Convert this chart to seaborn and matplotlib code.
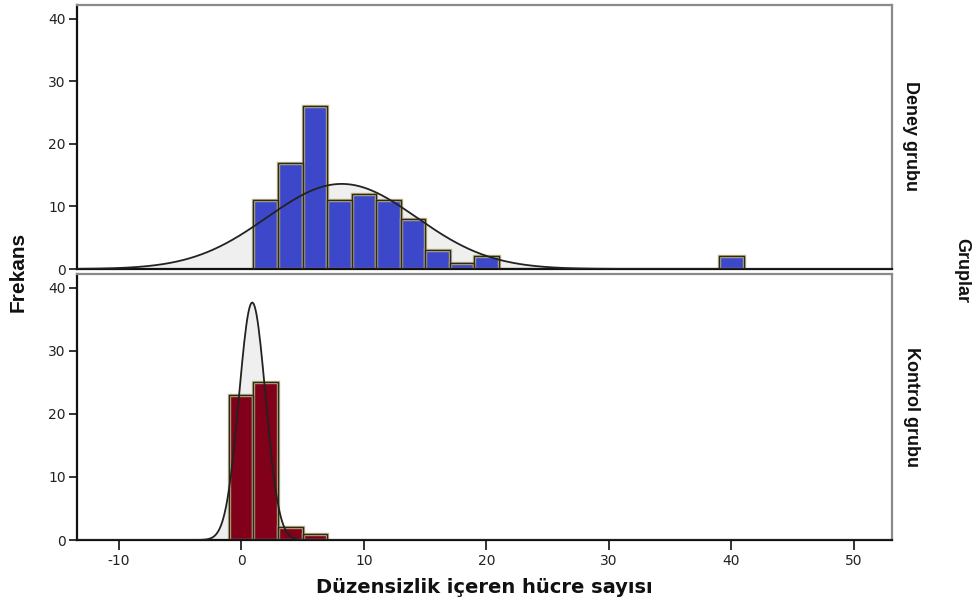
import numpy as np
import pandas as pd
import matplotlib
matplotlib.use("Agg")
import matplotlib.pyplot as plt
import seaborn as sns

# Binned frequencies (bin width 2) for each group
bin_width = 2
deney_bin_starts = [1, 3, 5, 7, 9, 11, 13, 15, 17, 19, 39]
deney_counts = [11, 17, 26, 11, 12, 11, 8, 3, 1, 2, 2]
deney_mean, deney_sd = 8.2, 6.1

kontrol_bin_starts = [-1, 1, 3, 5]
kontrol_counts = [23, 25, 2, 1]
kontrol_mean, kontrol_sd = 0.9, 1.08

group_names = ["Deney grubu", "Kontrol grubu"]
bar_colors = ["#3c48c9", "#81001a"]
x_ticks = [-10, 0, 10, 20, 30, 40, 50]
y_ticks = [0, 10, 20, 30, 40]

sns.set_style("white")
plt.rcParams["font.family"] = ["DejaVu Sans"]
plt.rcParams["axes.unicode_minus"] = False
label_font = ["Liberation Sans", "DejaVu Sans"]

fig = plt.figure(figsize=(9.79, 6.03), dpi=100)
ax_top = fig.add_axes([77 / 979, 1 - 269 / 603, 815 / 979, 264 / 603])
ax_bot = fig.add_axes([77 / 979, 1 - 540 / 603, 815 / 979, 266 / 603])

xlim = (-13.4, 53.1)
groups = [
    (ax_top, deney_bin_starts, deney_counts, deney_mean, deney_sd, bar_colors[0]),
    (ax_bot, kontrol_bin_starts, kontrol_counts, kontrol_mean, kontrol_sd, bar_colors[1]),
]

for ax, starts, counts, mu, sd, color in groups:
    df = pd.DataFrame({"center": [s + bin_width / 2 for s in starts], "count": counts})
    brange = (float(min(starts)), float(max(starts) + bin_width))

    # Normal curve scaled to the histogram
    n = sum(counts)
    xs = np.linspace(xlim[0], xlim[1], 800)
    ys = n * bin_width * np.exp(-0.5 * ((xs - mu) / sd) ** 2) / (sd * np.sqrt(2 * np.pi))
    ax.fill_between(xs, 0, ys, color="#efefef", zorder=1, linewidth=0)

    # Filled bars with a pale rim, then a thin dark outline on top
    sns.histplot(data=df, x="center", weights="count", binwidth=bin_width, binrange=brange,
                 ax=ax, color=color, alpha=1.0, edgecolor="#bfb484", linewidth=2.4, zorder=2)
    sns.histplot(data=df, x="center", weights="count", binwidth=bin_width, binrange=brange,
                 ax=ax, fill=False, color="#2b2a22", linewidth=1.0, zorder=3)
    ax.plot(xs, ys, color="#222222", linewidth=1.3, zorder=4)

    ax.set_xlim(*xlim)
    ax.set_ylim(0, 42.2)
    ax.set_yticks(y_ticks)
    ax.set_xlabel("")
    ax.set_ylabel("")
    ax.set_facecolor("white")
    for side in ("top", "right"):
        ax.spines[side].set_color("#8a8a8a")
        ax.spines[side].set_linewidth(1.6)
    for side in ("left", "bottom"):
        ax.spines[side].set_color("#111111")
        ax.spines[side].set_linewidth(1.6)
    ax.tick_params(axis="y", direction="out", length=6, width=1.2, color="#111111",
                   labelsize=10, labelcolor="#222222", left=True, pad=2)

ax_top.set_xticks([])
ax_bot.set_xticks(x_ticks)
ax_bot.tick_params(axis="x", direction="out", length=7, width=1.2, color="#111111",
                   labelsize=10, labelcolor="#222222", bottom=True, pad=3)

ax_bot.set_xlabel("Düzensizlik içeren hücre sayısı", fontsize=14, fontweight="bold",
                  color="#111111", labelpad=7)

fig.text(18 / 979, 1 - 272 / 603, "Frekans", rotation=90, ha="center", va="center",
         fontsize=15, fontweight="bold", family=label_font, color="#111111")
fig.text(911 / 979, 1 - 136 / 603, group_names[0], rotation=-90, ha="center", va="center",
         fontsize=13, fontweight="bold", family=label_font, color="#111111")
fig.text(912 / 979, 1 - 407 / 603, group_names[1], rotation=-90, ha="center", va="center",
         fontsize=13, fontweight="bold", family=label_font, color="#111111")
fig.text(962 / 979, 1 - 270 / 603, "Gruplar", rotation=-90, ha="center", va="center",
         fontsize=13, fontweight="bold", family=label_font, color="#111111")

fig.savefig("out.png", dpi=100, facecolor="white")
